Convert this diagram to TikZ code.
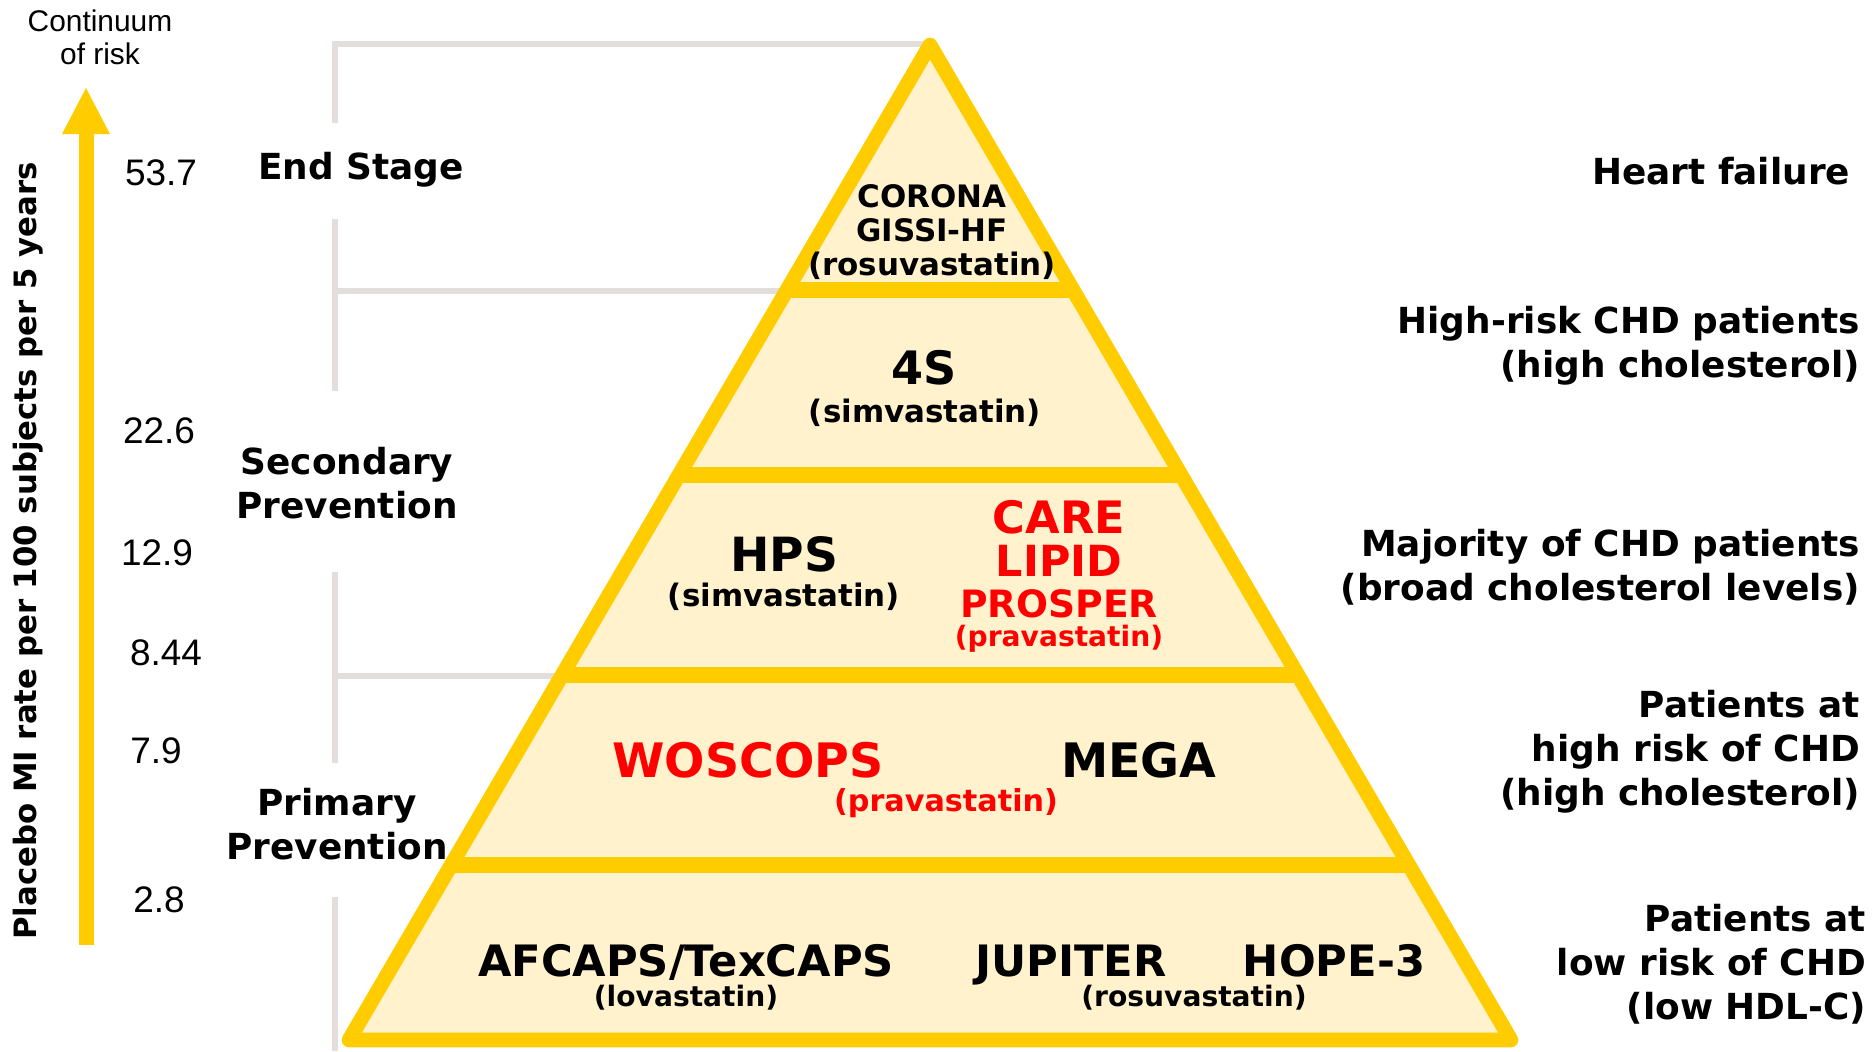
\documentclass[tikz,border=0pt]{standalone}
\usepackage{fontspec}
\setmainfont{DejaVu Sans}
\newfontfamily\plainfont{Liberation Sans}
\definecolor{pyrgold}{HTML}{FFCC00}
\definecolor{pyrfill}{HTML}{FFF2CC}
\definecolor{brk}{HTML}{E3DEDB}
\definecolor{trialred}{HTML}{FF0000}
\begin{document}
\begin{tikzpicture}[x=0.01cm,y=-0.01cm,
  every node/.style={inner sep=0pt, outer sep=0pt},
  num/.style={font=\plainfont\fontsize{10.5}{12.5}\selectfont},
  stage/.style={font=\bfseries\fontsize{10.2}{12.5}\selectfont, align=center},
  group/.style={font=\bfseries\fontsize{10.2}{12.5}\selectfont, align=right, anchor=east},
  trial/.style={font=\bfseries\fontsize{#1}{#1}\selectfont},
  drug/.style={font=\bfseries\fontsize{#1}{#1}\selectfont},
  bracket/.style={draw=brk, line width=1.7pt},
  red/.style={text=trialred}]
\useasboundingbox (0,0) rectangle (1876,1051);

% pyramid corners (centre line of the outline)
\coordinate (apex) at (930,45);
\coordinate (bl) at (349,1040);
\coordinate (br) at (1511,1040);

% grey stage brackets
\draw[bracket] (925,44) -- (335,44) -- (335,123);
\draw[bracket] (335,219) -- (335,391);
\draw[bracket] (335,291) -- (790,291);
\draw[bracket] (335,572) -- (335,763);
\draw[bracket] (335,676) -- (565,676);
\draw[bracket] (335,897) -- (335,1051);

% pyramid with its layer bands
\begin{scope}
  \clip (apex) -- (bl) -- (br) -- cycle;
  \fill[pyrfill] (apex) -- (bl) -- (br) -- cycle;
  \foreach \yy in {290,475,675,865}
    \draw[pyrgold, line width=4.6pt] (300,\yy) -- (1600,\yy);
\end{scope}
\draw[pyrgold, line width=4.2pt, line join=round] (apex) -- (bl) -- (br) -- cycle;

% risk axis arrow
\fill[pyrgold] (79,945) rectangle (94,130);
\fill[pyrgold] (86,88) -- (62,134) -- (110,134) -- cycle;
\node[font=\plainfont\fontsize{8.5}{9.4}\selectfont, align=center] (cont) at (100,37) {Continuum\\of risk};
\node[font=\bfseries\fontsize{8.75}{10}\selectfont, rotate=90, anchor=base] (axis) at (36,551)
  {Placebo MI rate per 100 subjects per 5 years};

% event rates
\node[num] (r1) at (161,173) {53.7};
\node[num] (r2) at (159,431) {22.6};
\node[num] (r3) at (157,553) {12.9};
\node[num] (r4) at (166,653) {8.44};
\node[num] (r5) at (156,751) {7.9};
\node[num] (r6) at (159,900) {2.8};

% stages
\node[stage] (end) at (361,170) {End Stage};
\node[stage] (sec) at (347,483) {Secondary\\Prevention};
\node[stage] (pri) at (337,824) {Primary\\Prevention};

% patient groups
\node[group] (g1) at (1850,171) {Heart failure};
\node[group] (g2) at (1860,346) {High-risk CHD patients\\(high cholesterol)};
\node[group] (g3) at (1860,567) {Majority of CHD patients\\(broad cholesterol levels)};
\node[group] (g4) at (1860,752) {Patients at\\high risk of CHD\\(high cholesterol)};
\node[group] (g5) at (1866,964) {Patients at\\low risk of CHD\\(low HDL-C)};

% layer 1
\node[font=\bfseries\fontsize{8.8}{9.7}\selectfont, align=center] (corona) at (932,232)
  {CORONA\\GISSI-HF\\(rosuvastatin)};

% layer 2
\node[trial=13.1] (s4) at (924,368) {4S};
\node[drug=8.8] (s4d) at (925,413) {(simvastatin)};

% layer 3
\node[trial=13.4] (hps) at (784,554) {HPS};
\node[drug=8.8] (hpsd) at (784,597) {(simvastatin)};
\node[trial=12.7, red] (care) at (1059,517) {CARE};
\node[trial=12.2, red] (lipid) at (1059,561) {LIPID};
\node[trial=10.7, red] (prosper) at (1059,604) {PROSPER};
\node[drug=8, red] (prosperd) at (1059,639) {(pravastatin)};

% layer 4
\node[trial=13.5, red] (woscops) at (748,760) {WOSCOPS};
\node[trial=13.5] (mega) at (1139,760) {MEGA};
\node[drug=8.6, red] (woscopsd) at (946,803) {(pravastatin)};

% layer 5
\node[trial=12.3, anchor=base] (afcaps) at (686,976) {AFCAPS/TexCAPS};
\node[drug=8] (afcapsd) at (686,998) {(lovastatin)};
\node[trial=12.3, anchor=base] (jupiter) at (1071,976) {JUPITER};
\node[trial=12.3, anchor=base] (hope) at (1334,976) {HOPE-3};
\node[drug=8] (jupiterd) at (1194,998) {(rosuvastatin)};
\end{tikzpicture}
\end{document}
